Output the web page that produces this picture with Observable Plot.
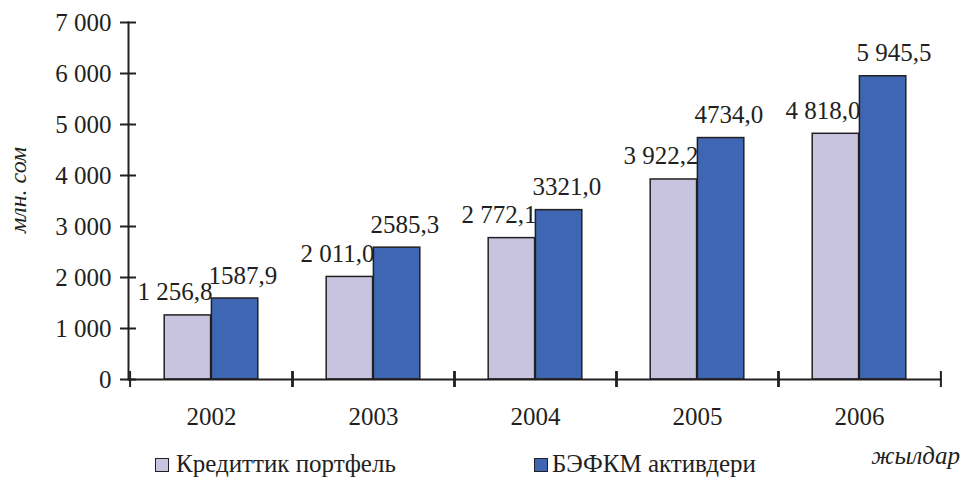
<!DOCTYPE html>
<html><head><meta charset="utf-8">
<script src="https://cdn.jsdelivr.net/npm/d3@7"></script>
<script src="https://cdn.jsdelivr.net/npm/@observablehq/plot@0.6"></script>
<style>
body{margin:0;background:#fff;color:#231f20}
#wrap, #wrap *{font-family:'Liberation Serif'}
#wrap{position:relative;width:963px;height:477px;overflow:hidden}
#chart{position:absolute;left:0;top:0}
.lg{position:absolute;font-size:25px;line-height:25px;white-space:nowrap}
.sw{position:absolute;width:12px;height:12px;border:1.5px solid #231f20;box-sizing:content-box}
#ytitle{position:absolute;left:18px;top:190px;font-size:24px;font-style:italic;white-space:nowrap;transform:translate(-50%,-50%) rotate(-90deg)}
</style></head><body>
<div id="wrap"><div id="chart"></div></div>
<script>
const years = ["2002", "2003", "2004", "2005", "2006"];
const credit = [1256.8, 2011.0, 2772.1, 3922.2, 4818.0];
const assets = [1587.9, 2585.3, 3321.0, 4734.0, 5945.5];
const creditLabels = ["1 256,8", "2 011,0", "2 772,1", "3 922,2", "4 818,0"];
const assetLabels = ["1587,9", "2585,3", "3321,0", "4734,0", "5 945,5"];
const seriesNames = ["Кредиттик портфель", "БЭФКМ активдери"];
const yTicks = [0, 1000, 2000, 3000, 4000, 5000, 6000, 7000];
const yTitle = "млн. сом";
const xTitle = "жылдар";
const colors = ["#c8c4e0", "#3f66b2"];

const W = 963, H = 440, mL = 128, mR = 21, mT = 22, mB = 61;
const bw = (W - mL - mR) / years.length;
const ink = "#231f20";
const FONT = "'Liberation Serif'";
const FS = 25;
const creditRows = years.map((y, i) => ({year: y, value: credit[i], label: creditLabels[i]}));
const assetRows = years.map((y, i) => ({year: y, value: assets[i], label: assetLabels[i]}));
const fmt = d => d3.format(",")(d).replace(/,/g, " ");
const blank = () => "";

const plot = Plot.plot({
  width: W, height: H, marginLeft: mL, marginRight: mR, marginTop: mT, marginBottom: mB,
  style: {fontFamily: FONT, fontSize: FS + "px", color: ink, background: "transparent"},
  x: {domain: years, padding: 0},
  y: {domain: [0, 7000]},
  marks: [
    Plot.barY(creditRows, {x: "year", y: "value", fill: colors[0], stroke: ink, strokeWidth: 1.5, insetLeft: bw * 0.21, insetRight: bw * 0.5}),
    Plot.barY(assetRows, {x: "year", y: "value", fill: colors[1], stroke: ink, strokeWidth: 1.5, insetLeft: bw * 0.5, insetRight: bw * 0.21}),
    Plot.ruleY([0], {stroke: ink, strokeWidth: 2}),
    Plot.frame({anchor: "left", stroke: ink, strokeWidth: 2}),
    Plot.axisY(yTicks, {tickSize: 8, tickPadding: 9, tickFormat: fmt, stroke: ink, strokeWidth: 2, label: null, fontSize: FS}),
    Plot.axisY(yTicks, {tickSize: 8, dx: 8, tickFormat: blank, stroke: ink, strokeWidth: 2, label: null}),
    Plot.axisX({tickSize: 16, dy: -8, dx: -bw / 2, tickFormat: blank, stroke: ink, strokeWidth: 2, label: null}),
    Plot.axisX({tickSize: 16, dy: -8, dx: bw / 2, tickFormat: blank, stroke: ink, strokeWidth: 2, label: null}),
    Plot.axisX({tickSize: 0, tickPadding: 28, label: null, fontSize: FS}),
    Plot.text(creditRows, {x: "year", y: "value", text: "label", textAnchor: "end", lineAnchor: "bottom", dx: 1, dy: -15, fontSize: FS, fill: ink}),
    Plot.text(assetRows, {x: "year", y: "value", text: "label", textAnchor: "start", lineAnchor: "bottom", dx: -3, dy: -15, fontSize: FS, fill: ink})
  ]
});
document.getElementById("chart").appendChild(plot);

const wrap = document.getElementById("wrap");
function add(html) { wrap.insertAdjacentHTML("beforeend", html); }
add(`<div id="ytitle">${yTitle}</div>`);
add(`<div class="sw" style="left:155px;top:458px;background:${colors[0]}"></div>`);
add(`<div class="lg" style="left:176px;top:451px">${seriesNames[0]}</div>`);
add(`<div class="sw" style="left:534px;top:458px;background:${colors[1]}"></div>`);
add(`<div class="lg" style="left:552px;top:451px">${seriesNames[1]}</div>`);
add(`<div class="lg" style="right:3px;top:443px;font-style:italic">${xTitle}</div>`);
</script>
</body></html>
